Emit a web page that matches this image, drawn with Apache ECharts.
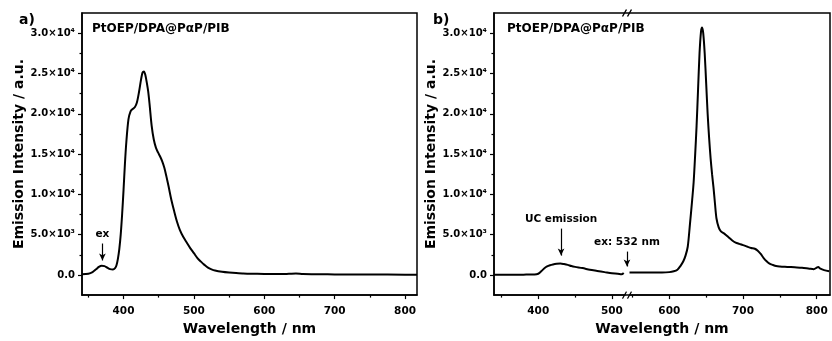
<!DOCTYPE html>
<html>
<head>
<meta charset="utf-8">
<script src="https://cdn.jsdelivr.net/npm/echarts@6/dist/echarts.min.js"></script>
<style>html,body{margin:0;padding:0;background:#fff}#c{width:832px;height:341px}</style>
</head>
<body>
<div id="c"></div>
<script>
// ---- data ----
const waveA = [341,350,356,361,365,369,373,377,381,385,388,390,392,394,396,398,400,402,404,407,410,413,416,419,422,425,427,429,431,433,435,437,440,443,446,449,452,455,458,461,464,468,472,476,480,485,490,495,500,505,510,515,520,525,530,540,550,560,570,580,600,620,635,645,655,680,700,750,800,817];
const intA  = [100,150,350,700,1000,1150,1100,900,720,680,850,1200,2000,3200,5000,7500,10500,13800,16500,19300,20300,20600,20800,21400,22700,24300,25100,25250,24800,23900,22800,21200,18500,16800,15800,15200,14700,14100,13300,12200,11000,9300,7900,6600,5600,4700,4000,3300,2700,2100,1650,1250,900,700,560,400,300,230,190,160,130,110,140,170,120,90,70,50,40,30];

const waveB = [340,360,380,395,400,404,408,412,416,420,425,430,435,440,445,450,460,470,480,490,500,508,513,516,531,546,550,570,590,600,606,611,615,619,622,625,628,631,633,635,637,639,641,643,644.5,646,648,650,652,654,656,658,660,662,664,667,670,675,680,685,690,695,700,706,711,716,720,724,728,732,736,740,745,750,760,770,780,790,796,800,802,805,810,817];
const intB  = [30,30,40,60,150,450,800,1050,1200,1300,1380,1420,1350,1250,1100,1000,850,650,500,350,200,150,80,250,null,300,300,290,300,350,450,650,1100,1700,2400,3500,6300,9300,11500,14800,18500,23000,27500,30200,30700,30000,27500,23800,20000,17000,14500,12500,10800,8800,7000,5900,5400,5100,4700,4300,4000,3850,3700,3500,3350,3250,3000,2600,2100,1700,1400,1250,1100,1050,1000,950,900,780,720,900,980,780,600,450];

const xMajor = [400,500,600,700,800];
const xMinor = [350,450,550,650,750];
const yMajor = [0,5000,10000,15000,20000,25000,30000];
const yMinor = [2500,7500,12500,17500,22500,27500];
const axisBreak = [{start: 517, end: 546, gap: '1.5%'}];
const sampleName = 'PtOEP/DPA@PαP/PIB';

// ---- chart ----
const FF = 'DejaVu Sans';
const sup = {'0':'⁰','1':'¹','2':'²','3':'³','4':'⁴','5':'⁵','6':'⁶','7':'⁷','8':'⁸','9':'⁹'};
function yFmt(v){
  if (v === 0) return '0.0';
  const e = Math.floor(Math.log10(v) + 1e-9);
  const m = (v / Math.pow(10, e)).toFixed(1);
  return m + '×10' + String(e).split('').map(c => sup[c]).join('');
}
function mkX(gi, minor, brk){
  const ax = {
    type:'value', gridIndex:gi, min: gi===0?341:340, max: gi===0?817:818, position:'bottom',
    axisLine:{show:!minor, onZero:false, lineStyle:{color:'#000', width:1.5}},
    axisTick:{show:true, inside:false, length: minor?2.5:4, lineStyle:{color:'#000', width:1.2}, customValues: minor?xMinor:xMajor},
    axisLabel:{show:!minor, customValues:xMajor, margin:11, color:'#000', fontFamily:FF, fontWeight:'bold', fontSize:10.5},
    splitLine:{show:false},
    name: minor?'':'Wavelength / nm', nameLocation:'middle', nameGap:25,
    nameTextStyle:{color:'#000', fontFamily:FF, fontWeight:'bold', fontSize:14}
  };
  if (brk){ ax.breaks = axisBreak; ax.breakArea = {show:false}; }
  return ax;
}
function mkY(gi, minor){
  return {
    type:'value', gridIndex:gi, min:-2500, max:32500, position:'left',
    axisLine:{show:!minor, onZero:false, lineStyle:{color:'#000', width:1.5}},
    axisTick:{show:true, inside:false, length: minor?2.5:4, lineStyle:{color:'#000', width:1.2}, customValues: minor?yMinor:yMajor},
    axisLabel:{show:!minor, customValues:yMajor, margin:7, color:'#000', fontFamily:FF, fontWeight:'bold', fontSize:10, formatter:yFmt},
    splitLine:{show:false},
    name: minor?'':'Emission Intensity / a.u.', nameLocation:'middle', nameGap:56,
    nameTextStyle:{color:'#000', fontFamily:FF, fontWeight:'bold', fontSize:14}
  };
}
const annLabel = {show:true, position:'start', distance:4, formatter:'{b}', color:'#000', fontFamily:FF, fontWeight:'bold', fontSize:10.5};
const annBase = {silent:true, animation:false, symbol:['none','arrow'], symbolSize:[5,7],
  lineStyle:{color:'#000', width:1.2, type:'solid'}, label:annLabel, emphasis:{disabled:true}};

const option = {
  animation:false,
  backgroundColor:'#fff',
  grid:[
    {left:82, top:13, width:335, height:283, show:true, borderColor:'#000', borderWidth:1.5},
    {left:494, top:13, width:336, height:283, show:true, borderColor:'#000', borderWidth:1.5}
  ],
  xAxis:[mkX(0,false,false), mkX(0,true,false), mkX(1,false,true), mkX(1,true,true)],
  yAxis:[mkY(0,false), mkY(0,true), mkY(1,false), mkY(1,true)],
  graphic:[
    {type:'text', left:19, top:13, style:{text:'a)', fill:'#000', font:'bold 14px "DejaVu Sans"'}},
    {type:'text', left:92, top:23, style:{text:sampleName, fill:'#000', font:'bold 12px "DejaVu Sans"'}},
    {type:'text', left:433, top:13, style:{text:'b)', fill:'#000', font:'bold 14px "DejaVu Sans"'}},
    {type:'text', left:507, top:23, style:{text:sampleName, fill:'#000', font:'bold 12px "DejaVu Sans"'}}
  ],
  series:[
    {type:'line', xAxisIndex:0, yAxisIndex:0, showSymbol:false, smooth:0.3, clip:true,
     lineStyle:{color:'#000', width:2}, data: waveA.map((w,i)=>[w,intA[i]]),
     markLine:Object.assign({}, annBase, {data:[[{name:'ex', coord:[370,3900]},{coord:[370,1800]}]]})},
    {type:'line', xAxisIndex:2, yAxisIndex:2, showSymbol:false, smooth:0.3, clip:true, connectNulls:false,
     lineStyle:{color:'#000', width:2}, data: waveB.map((w,i)=>[w,intB[i]]),
     markLine:Object.assign({}, annBase, {data:[
       [{name:'UC emission', coord:[431,5750]},{coord:[431,2400]}],
       [{name:'ex: 532 nm', coord:[531.5,2900]},{coord:[531.5,1050]}]
     ]}),
     markPoint:{silent:true, animation:false, symbol:'path://M0,10 L4,0 M5,10 L9,0', symbolSize:[9,7],
       itemStyle:{color:'none', borderColor:'#000', borderWidth:1.2}, label:{show:false},
       data:[{coord:[531.5,-2500]},{coord:[531.5,32500]}]}}
  ]
};
const chart = echarts.init(document.getElementById('c'), null, {renderer:'canvas'});
chart.setOption(option);
</script>
</body>
</html>
